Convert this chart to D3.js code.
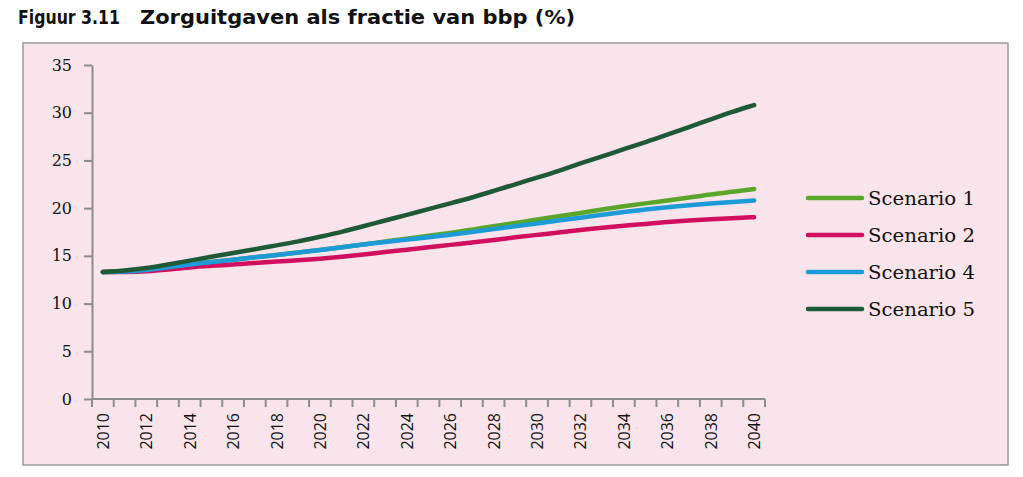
<!DOCTYPE html>
<html>
<head>
<meta charset="utf-8">
<script src="https://cdn.jsdelivr.net/npm/d3@7"></script>
<style>
  body { margin: 0; background: #fff; }
  svg { display: block; }
</style>
</head>
<body>
<svg id="chart" width="1023" height="477"></svg>
<script>
// years on the category axis
const years = d3.range(2010, 2041);
const yTicks = [0, 5, 10, 15, 20, 25, 30, 35];
const seriesNames = ['Scenario 1', 'Scenario 2', 'Scenario 4', 'Scenario 5'];

// values (% of bbp)
const scenario1 = [13.3, 13.35, 13.5, 13.8, 14.1, 14.35, 14.6, 14.85, 15.1, 15.35, 15.6,
  15.9, 16.2, 16.5, 16.8, 17.1, 17.4, 17.75, 18.1, 18.45, 18.8,
  19.15, 19.5, 19.85, 20.2, 20.5, 20.8, 21.1, 21.45, 21.7, 22.0];
const scenario2 = [13.3, 13.3, 13.35, 13.55, 13.8, 13.95, 14.1, 14.25, 14.4, 14.55, 14.7,
  14.9, 15.15, 15.4, 15.65, 15.9, 16.15, 16.4, 16.65, 16.95, 17.2,
  17.45, 17.7, 17.95, 18.15, 18.35, 18.55, 18.7, 18.85, 18.95, 19.05];
const scenario4 = [13.3, 13.35, 13.5, 13.8, 14.1, 14.35, 14.6, 14.85, 15.1, 15.35, 15.6,
  15.9, 16.2, 16.45, 16.7, 16.95, 17.2, 17.5, 17.8, 18.1, 18.4,
  18.7, 19.0, 19.3, 19.6, 19.85, 20.1, 20.3, 20.5, 20.65, 20.8];
const scenario5 = [13.3, 13.45, 13.7, 14.1, 14.5, 14.9, 15.3, 15.7, 16.1, 16.5, 17.0,
  17.5, 18.1, 18.7, 19.3, 19.9, 20.5, 21.1, 21.8, 22.5, 23.2,
  23.9, 24.7, 25.4, 26.2, 26.9, 27.7, 28.5, 29.3, 30.1, 30.8];

const series = [scenario1, scenario2, scenario4, scenario5];
const colors = ['#5aa52a', '#d0105f', '#1c9bd7', '#1f5a38'];

const svg = d3.select('#chart');

// pink panel
svg.append('rect')
  .attr('x', 23).attr('y', 43)
  .attr('width', 985).attr('height', 422)
  .attr('fill', '#f9e4ec')
  .attr('stroke', '#9a9a9a')
  .attr('stroke-width', 1.5);

// title
const title = svg.append('text')
  .attr('x', 18).attr('y', 24)
  .attr('font-family', 'DejaVu Sans')
  .attr('font-weight', 'bold')
  .attr('font-size', 19)
  .attr('fill', '#111');
title.append('tspan')
  .attr('textLength', 102).attr('lengthAdjust', 'spacingAndGlyphs').text('Figuur 3.11');
title.append('tspan').attr('x', 140)
  .attr('textLength', 435).attr('lengthAdjust', 'spacingAndGlyphs')
  .text('Zorguitgaven als fractie van bbp (%)');

const margin = { left: 92, top: 65, right: 765, bottom: 399 };

const x = d3.scaleBand()
  .domain(years)
  .range([margin.left, margin.right]);

const y = d3.scaleLinear()
  .domain([0, 35])
  .range([margin.bottom, margin.top]);

const axisColor = '#8c8c8c';

// y axis
const yAxis = svg.append('g')
  .attr('transform', `translate(${margin.left},0)`)
  .call(d3.axisLeft(y).tickValues(yTicks).tickSize(8).tickPadding(12).tickSizeOuter(0));
yAxis.select('.domain').attr('stroke', axisColor).attr('stroke-width', 2);
yAxis.selectAll('.tick line').attr('stroke', axisColor).attr('stroke-width', 2);
yAxis.selectAll('.tick text')
  .attr('font-family', 'DejaVu Serif')
  .attr('font-size', 16)
  .attr('fill', '#111');

// x axis: ticks on band edges, labels every other year
const xAxisG = svg.append('g');
xAxisG.append('line')
  .attr('x1', margin.left - 1).attr('x2', margin.right)
  .attr('y1', margin.bottom).attr('y2', margin.bottom)
  .attr('stroke', axisColor).attr('stroke-width', 2);
xAxisG.selectAll('line.tick')
  .data(years.concat([2041]))
  .join('line')
  .attr('class', 'tick')
  .attr('x1', d => d === 2041 ? margin.right : x(d))
  .attr('x2', d => d === 2041 ? margin.right : x(d))
  .attr('y1', margin.bottom)
  .attr('y2', margin.bottom + 8)
  .attr('stroke', axisColor).attr('stroke-width', 2);
xAxisG.selectAll('text')
  .data(years.filter(d => d % 2 === 0))
  .join('text')
  .attr('transform', d => `translate(${x(d) + x.bandwidth() / 2 + 6},${margin.bottom + 14}) rotate(-90)`)
  .attr('text-anchor', 'end')
  .attr('font-family', 'Open Sans')
  .attr('font-size', 16)
  .attr('fill', '#111')
  .text(d => d);

// lines
const line = d3.line()
  .x((d, i) => x(years[i]) + x.bandwidth() / 2)
  .y(d => y(d))
  .curve(d3.curveBasis);

svg.append('g').selectAll('path')
  .data(series)
  .join('path')
  .attr('d', d => line(d))
  .attr('fill', 'none')
  .attr('stroke', (d, i) => colors[i])
  .attr('stroke-width', 4.5)
  .attr('stroke-linecap', 'round')
  .attr('stroke-linejoin', 'round');

// legend
const legend = svg.append('g');
const legendY = [198, 235, 272, 309];
const items = legend.selectAll('g')
  .data(seriesNames)
  .join('g')
  .attr('transform', (d, i) => `translate(808,${legendY[i]})`);
items.append('line')
  .attr('x1', 0).attr('x2', 54)
  .attr('stroke', (d, i) => colors[i])
  .attr('stroke-width', 4.5)
  .attr('stroke-linecap', 'round');
items.append('text')
  .attr('x', 60).attr('y', 7)
  .attr('font-family', 'DejaVu Serif')
  .attr('font-size', 18)
  .attr('textLength', 107)
  .attr('lengthAdjust', 'spacingAndGlyphs')
  .attr('fill', '#111')
  .text(d => d);
</script>
</body>
</html>
